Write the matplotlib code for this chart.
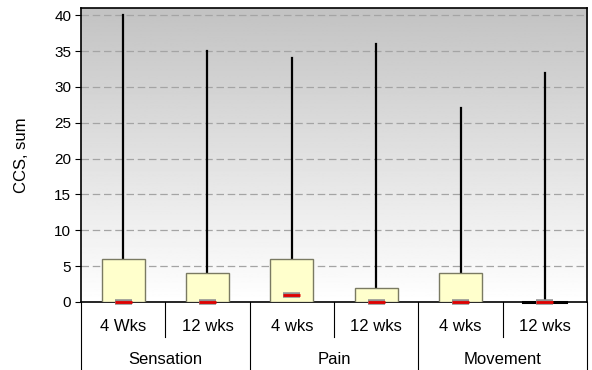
import numpy as np
import matplotlib.pyplot as plt
import matplotlib.patheffects as pe
from matplotlib.patches import Rectangle

plt.rcParams['font.family'] = ['Liberation Sans', 'DejaVu Sans']

# Datos
groups = ['Sensation', 'Pain', 'Movement']
periods = ['4 Wks', '12 wks', '4 wks', '12 wks', '4 wks', '12 wks']
q1 = [0, 0, 0, 0, 0, 0]
median = [0, 0, 1, 0, 0, 0]
q3 = [6, 4, 6, 2, 4, 0]
maxval = [40, 35, 34, 36, 27, 32]

fig = plt.figure(figsize=(5.92, 3.70), dpi=100)
ax = fig.add_axes([0.1368, 0.1838, 0.8548, 0.7946])

n = len(periods)
ax.set_xlim(0, n)
ax.set_ylim(0, 41)

# Fondo degradado gris -> blanco
grad = np.linspace(1, 0, 256).reshape(-1, 1)
ax.imshow(grad, extent=[0, n, 0, 41], aspect='auto', cmap='gray',
          vmin=-3.2, vmax=1.0, zorder=0, origin='lower')

for yv in range(5, 41, 5):
    ax.axhline(yv, color='#a4a4a4', lw=0.9, ls=(0, (6, 3)), zorder=1)

bw = 0.51
mw = 0.2
for i in range(n):
    c = i + 0.5
    ax.plot([c, c], [q3[i], maxval[i]], color='black', lw=1.6, zorder=3)
    if q3[i] > q1[i]:
        ax.add_patch(Rectangle((c - bw / 2, q1[i]), bw, q3[i] - q1[i],
                               facecolor='#ffffcc', edgecolor='#7a7a62',
                               lw=1.0, zorder=4))
    else:
        ax.plot([c - bw / 2, c + bw / 2], [q1[i], q1[i]], color='black',
                lw=2.2, zorder=4, clip_on=False)
    ax.plot([c - mw / 2, c + mw / 2], [median[i], median[i]], color='#e00000',
            lw=2.0, solid_capstyle='butt', zorder=6, clip_on=False,
            path_effects=[pe.Stroke(linewidth=4.0, foreground='#909090'), pe.Normal()])

ax.set_xticks([])
ax.set_yticks(range(0, 41, 5))
ax.tick_params(axis='y', direction='out', length=4, labelsize=11, pad=3)
ax.set_ylabel('CCS, sum', fontsize=12, labelpad=18)
for s in ax.spines.values():
    s.set_color('black')
    s.set_linewidth(1.2)

# Tabla de etiquetas bajo el eje
tr = ax.get_xaxis_transform()
short_y = -0.119
full_y = -0.235
for k in range(n + 1):
    bottom = full_y if k % 2 == 0 else short_y
    ax.plot([k, k], [0, bottom], transform=tr, color='black', lw=0.8,
            clip_on=False)
for i, lab in enumerate(periods):
    ax.text(i + 0.5, -0.082, lab, transform=tr, ha='center', va='center',
            fontsize=12)
for j, g in enumerate(groups):
    ax.text(2 * j + 1, -0.194, g, transform=tr, ha='center', va='center',
            fontsize=12)

fig.savefig('out.png', dpi=100)
